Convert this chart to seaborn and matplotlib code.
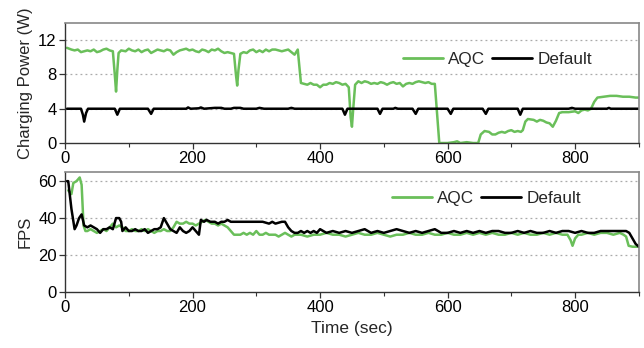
import matplotlib
matplotlib.use("Agg")
import matplotlib.pyplot as plt
import seaborn as sns
import pandas as pd
from matplotlib.ticker import MultipleLocator

# ---------------- data ----------------
aqc_power_t = [3,10,15,20,25,30,35,40,45,50,55,60,65,70,75,78,80,82,84,88,95,100,105,110,115,120,125,130,135,140,145,150,155,160,165,170,175,180,185,190,195,200,205,210,215,220,225,230,235,240,245,250,255,260,265,268,270,272,275,280,285,290,295,300,305,310,315,320,325,330,335,340,345,350,355,360,365,368,370,375,380,385,390,395,400,405,410,415,420,425,430,435,440,445,448,450,452,455,460,465,470,475,480,485,490,495,500,505,510,515,520,525,530,535,540,545,550,555,560,565,570,575,580,583,587,600,610,615,620,630,640,648,652,658,665,670,675,680,685,690,695,700,705,710,715,718,722,726,735,740,745,750,755,760,765,770,775,780,790,800,805,810,815,820,825,830,835,845,855,865,875,885,895,900]
aqc_power_v = [11.1,10.9,10.8,10.9,10.6,10.7,10.8,10.7,10.9,10.6,10.7,10.9,11.0,10.8,10.7,8.0,6.0,8.5,10.5,10.8,10.7,11.0,10.8,10.7,10.9,10.6,10.8,10.9,10.5,10.7,10.9,10.8,10.7,10.9,10.8,10.3,10.6,10.8,10.9,11.0,10.8,10.9,10.7,10.6,10.9,10.8,10.6,10.9,10.8,11.0,10.7,10.5,10.6,10.5,10.4,8.0,6.7,8.5,10.4,10.6,10.5,10.8,10.9,10.6,10.8,10.6,10.9,10.7,10.9,10.9,10.8,10.7,10.8,10.9,10.6,10.3,10.9,8.5,7.0,6.9,6.8,7.0,6.8,6.8,6.5,6.8,6.8,7.0,6.9,7.1,7.0,6.8,6.9,6.5,3.0,1.9,4.0,6.8,7.2,7.0,7.2,7.1,6.9,7.0,6.9,7.1,7.0,6.8,7.0,7.1,6.9,7.0,6.6,6.9,7.0,6.9,7.1,7.2,7.1,7.0,7.1,6.9,6.9,4.0,0.0,0.0,0.1,0.2,0.0,0.1,0.0,0.0,1.0,1.4,1.3,1.0,1.0,1.2,1.3,1.2,1.4,1.5,1.3,1.4,1.3,1.5,2.5,2.8,2.7,2.5,2.7,2.6,2.4,2.3,1.9,2.6,3.5,3.6,3.6,3.7,3.5,3.8,3.9,3.8,4.0,4.8,5.3,5.4,5.5,5.5,5.4,5.4,5.3,5.3]

def_power_t = [3,25,28,30,33,36,78,82,86,130,135,139,190,193,197,210,213,218,235,245,250,260,265,275,280,300,305,312,350,355,360,435,439,443,490,494,498,515,518,522,545,550,554,600,605,609,655,660,664,710,714,718,790,795,800,850,853,856,900]
def_power_v = [4.0,4.0,3.3,2.5,3.5,4.0,4.0,3.3,4.0,4.0,3.4,4.0,4.0,4.15,4.0,4.05,4.15,4.0,4.1,4.1,4.0,4.0,4.1,4.1,4.0,4.0,4.1,4.0,4.0,4.1,4.0,4.0,3.3,4.0,4.0,3.4,4.0,4.0,4.1,4.0,4.0,3.4,4.0,4.0,3.4,4.0,4.0,3.4,4.0,4.0,3.3,4.0,4.0,4.1,4.0,4.0,4.1,4.0,4.0]

aqc_fps_t = [5,10,13,18,23,26,29,32,35,40,45,50,55,60,65,70,75,80,85,90,95,100,105,110,115,120,125,130,135,140,145,150,155,160,165,170,175,180,185,190,195,200,205,210,215,220,225,230,235,240,245,250,255,260,265,270,275,280,285,290,295,300,305,310,315,320,325,330,335,340,345,350,355,360,370,380,390,400,410,420,430,440,450,460,470,480,490,500,510,520,530,540,550,560,570,580,590,600,610,620,630,640,650,660,670,680,690,700,710,720,730,740,750,760,770,780,788,793,796,800,805,810,820,830,840,850,860,870,876,880,884,890,900]
aqc_fps_v = [55,53,59,60,62,58,36,33,33,34,33,32,33,34,33,35,37,35,36,35,33,33,34,33,33,34,33,34,33,32,33,33,34,33,33,35,38,37,37,38,37,37,36,37,38,39,38,37,37,36,37,36,35,33,31,31,31,32,31,32,31,33,31,31,32,31,31,31,30,31,32,31,30,31,31,30,31,31,32,31,31,30,31,32,31,31,32,31,30,31,31,32,31,31,32,31,31,32,31,31,32,31,32,31,32,31,31,32,31,32,31,31,32,31,32,31,31,28,25,29,31,31,32,31,32,32,31,32,31,30,25,24.5,24.5]

def_fps_t = [3,5,10,15,18,22,26,30,35,40,45,50,55,60,65,70,75,80,85,88,90,95,100,105,110,115,120,125,130,135,140,145,150,155,160,165,170,175,180,185,190,195,200,205,210,213,218,222,228,235,240,245,250,255,260,270,280,290,300,310,320,325,330,340,345,350,355,360,365,370,375,380,385,390,395,400,410,420,430,440,450,460,470,480,490,500,510,520,530,540,550,560,570,580,585,590,600,610,620,630,640,650,660,670,680,690,700,710,720,730,740,750,760,770,780,790,800,810,820,830,840,850,860,870,880,885,890,895,900]
def_fps_v = [60,60,45,34,36,40,42,36,35,36,35,34,32,34,34,35,34,40,40,38,33,35,33,33,34,33,33,34,32,33,34,34,35,40,37,34,33,32,35,33,32,33,35,33,31,39,38,39,38,38,37,38,38,39,38,38,38,38,38,38,37,38,37,38,38,35,33,32,32,33,32,33,32,33,32,34,32,33,32,33,32,33,34,32,33,32,33,34,33,32,33,32,33,34,33,32,32,33,32,33,32,33,32,33,33,32,32,33,32,33,32,32,33,32,33,33,32,33,32,32,33,33,33,33,33,32,29,26,24.5]

series_names = ["AQC", "Default"]
xticks = [0, 200, 400, 600, 800]
power_ticks = [0, 4, 8, 12]
fps_ticks = [0, 20, 40, 60]

# ---------------- style ----------------
sns.set_style("ticks")
plt.rcParams['font.family'] = ['Liberation Sans', 'DejaVu Sans']

green = "#6abf5a"
black = "#000000"
palette = {"AQC": green, "Default": black}

df_power = pd.concat([
    pd.DataFrame({"t": aqc_power_t, "v": aqc_power_v, "s": series_names[0]}),
    pd.DataFrame({"t": def_power_t, "v": def_power_v, "s": series_names[1]}),
])
df_fps = pd.concat([
    pd.DataFrame({"t": aqc_fps_t, "v": aqc_fps_v, "s": series_names[0]}),
    pd.DataFrame({"t": def_fps_t, "v": def_fps_v, "s": series_names[1]}),
])

fig = plt.figure(figsize=(6.44, 3.48), dpi=100)
ax1 = fig.add_axes([0.101, 0.589, 0.891, 0.345])
ax2 = fig.add_axes([0.101, 0.161, 0.891, 0.345])

for ax, df, ylim, yt, ylab, lx, ly in [
    (ax1, df_power, (0, 14), power_ticks, "Charging Power (W)", 0.589, 0.692),
    (ax2, df_fps, (0, 65), fps_ticks, "FPS", 0.570, 0.775),
]:
    for y in yt[1:]:
        ax.axhline(y, color="#aaaaaa", lw=0.9, ls=(0, (1.5, 2.5)), zorder=0)
    sns.lineplot(data=df, x="t", y="v", hue="s", palette=palette, ax=ax,
                 linewidth=1.8, estimator=None, sort=False)
    ax.set_xlim(0, 900)
    ax.set_ylim(*ylim)
    ax.set_xticks(xticks)
    ax.xaxis.set_minor_locator(MultipleLocator(100))
    ax.set_yticks(yt)
    ax.tick_params(axis="both", which="major", labelsize=12, length=4, width=0.9,
                   direction="out", colors="#333333", labelcolor="black", pad=2)
    ax.tick_params(axis="x", which="minor", length=3, width=0.8, colors="#333333")
    ax.set_ylabel(ylab, fontsize=12, labelpad=4)
    ax.set_xlabel("")
    for side in ["top", "right"]:
        ax.spines[side].set_visible(True)
        ax.spines[side].set_color("#888888")
        ax.spines[side].set_linewidth(1.2)
    for side in ["left", "bottom"]:
        ax.spines[side].set_color("#333333")
        ax.spines[side].set_linewidth(1.0)
    leg = ax.legend(loc="center left", bbox_to_anchor=(lx, ly), frameon=False,
                    ncol=2, fontsize=12.3, handlelength=2.35, handletextpad=0.3,
                    columnspacing=0.4, borderaxespad=0, borderpad=0)
    for line in leg.get_lines():
        line.set_linewidth(2.0)

ax2.set_xlabel("Time (sec)", fontsize=12.5, labelpad=4)

fig.savefig("out.png", dpi=100)
